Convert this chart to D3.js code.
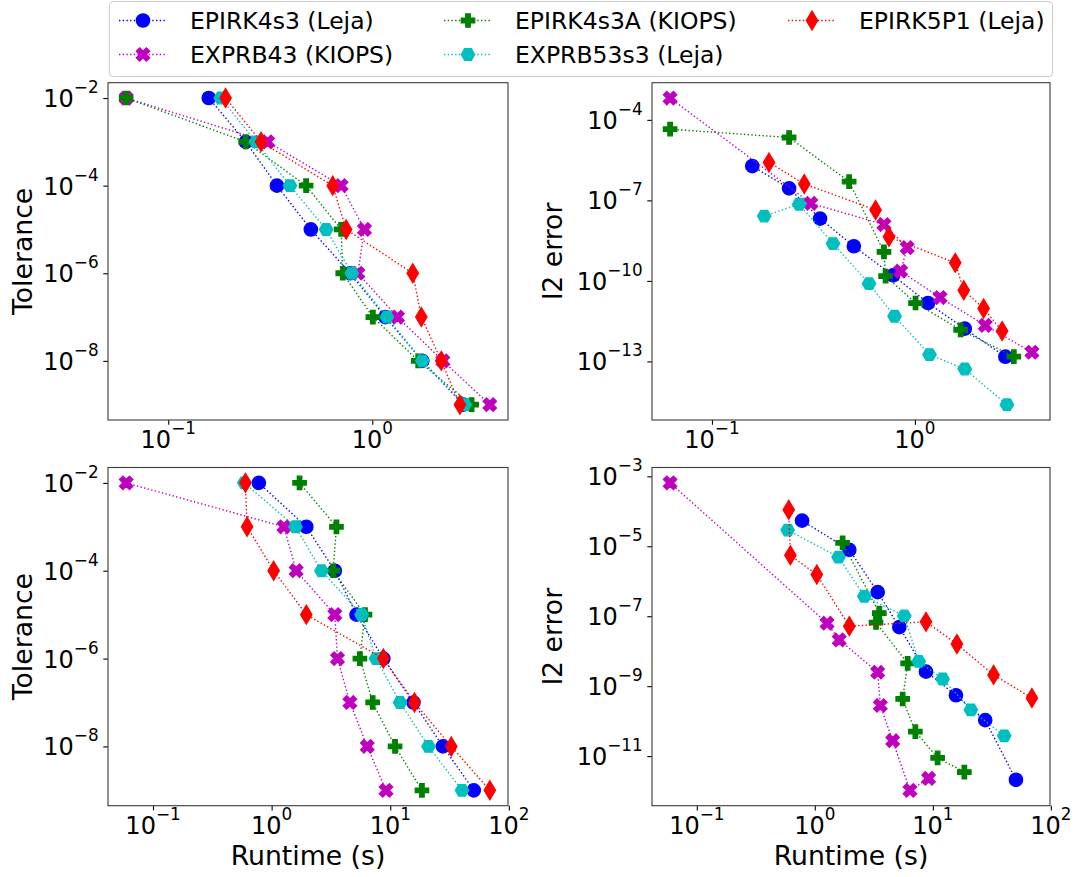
<!DOCTYPE html>
<html><head><meta charset="utf-8">
<script src="https://cdn.jsdelivr.net/npm/d3@7"></script>
<style>body{margin:0;background:#fff;} svg{display:block;}</style>
</head><body>
<svg id="chart" width="1075" height="877"></svg>
<script>
// ---------------- DATA ----------------
const tolerances = [1e-2, 1e-3, 1e-4, 1e-5, 1e-6, 1e-7, 1e-8, 1e-9];
const seriesNames = ["EPIRK4s3 (Leja)", "EXPRB43 (KIOPS)", "EPIRK4s3A (KIOPS)", "EXPRB53s3 (Leja)", "EPIRK5P1 (Leja)"];
const seriesColors = ["#0000ff", "#bf00bf", "#008000", "#00bfbf", "#ff0000"];
const seriesMarkers = ["o", "X", "P", "h", "d"];

// Top row (runtime in s), order of seriesNames
const runtimeTop_EPIRK4s3  = [0.158, 0.24, 0.341, 0.50, 0.78, 1.16, 1.76, 2.79];
const runtimeTop_EXPRB43   = [0.0622, 0.307, 0.704, 0.916, 0.85, 1.33, 2.22, 3.77];
const runtimeTop_EPIRK4s3A = [0.0622, 0.24, 0.474, 0.704, 0.717, 1.007, 1.68, 3.07];
const runtimeTop_EXPRB53s3 = [0.181, 0.269, 0.395, 0.594, 0.794, 1.18, 1.76, 2.84];
const runtimeTop_EPIRK5P1  = [0.191, 0.285, 0.640, 0.745, 1.58, 1.74, 2.18, 2.69];

const errorTop_EPIRK4s3  = [1.9e-6, 2.8e-7, 2.1e-8, 1.95e-9, 1.6e-10, 1.5e-11, 1.66e-12, 1.5e-13];
const errorTop_EXPRB43   = [6.5e-4, 7.8e-8, 1.26e-8, 1.74e-9, 2.3e-10, 2.4e-11, 2.2e-12, 2.2e-13];
const errorTop_EPIRK4s3A = [4.5e-5, 2.2e-5, 5.0e-7, 1.2e-9, 1.5e-10, 1.5e-11, 1.5e-12, 1.5e-13];
const errorTop_EXPRB53s3 = [2.6e-8, 7.2e-8, 2.45e-9, 7.9e-11, 4.8e-12, 1.8e-13, 5.2e-14, 2.45e-15];
const errorTop_EPIRK5P1  = [2.6e-6, 4.1e-7, 4.4e-8, 4.4e-9, 4.7e-10, 4.5e-11, 9.3e-12, 1.35e-12];

// Bottom row
const runtimeBot_EPIRK4s3  = [0.780, 1.96, 3.41, 5.20, 8.75, 15.7, 27.8, 50.6];
const runtimeBot_EXPRB43   = [0.0594, 1.27, 1.61, 3.41, 3.59, 4.57, 6.40, 9.21];
const runtimeBot_EPIRK4s3A = [1.72, 3.52, 3.30, 6.12, 5.55, 7.11, 10.98, 18.5];
const runtimeBot_EXPRB53s3 = [0.589, 1.59, 2.63, 5.73, 7.59, 12.1, 21.0, 40.3];
const runtimeBot_EPIRK5P1  = [0.601, 0.621, 1.04, 1.96, 8.75, 16.0, 32.7, 69.1];

const errorBot_EPIRK4s3  = [5.4e-5, 7.9e-6, 4.9e-7, 4.9e-8, 2.6e-9, 5.5e-10, 1.07e-10, 2.1e-12];
const errorBot_EXPRB43   = [6.5e-4, 6.3e-8, 2.1e-8, 2.5e-9, 2.8e-10, 2.75e-11, 1.05e-12, 2.3e-12];
const errorBot_EPIRK4s3A = [1.26e-5, 1.23e-7, 6.6e-8, 4.5e-9, 4.3e-10, 5.0e-11, 8.9e-12, 3.5e-12];
const errorBot_EXPRB53s3 = [2.9e-5, 4.9e-6, 3.7e-7, 1.02e-7, 5.1e-9, 1.6e-9, 2.1e-10, 3.8e-11];
const errorBot_EPIRK5P1  = [1.1e-4, 5.5e-6, 1.55e-6, 5.2e-8, 6.9e-8, 1.6e-8, 2.1e-9, 4.6e-10];

const xTicksTop = [1e-1, 1e0];
const xTicksBot = [1e-1, 1e0, 1e1, 1e2];
const yTicksTol = [1e-2, 1e-4, 1e-6, 1e-8];
const yTicksErrTop = [1e-4, 1e-7, 1e-10, 1e-13];
const yTicksErrBot = [1e-3, 1e-5, 1e-7, 1e-9, 1e-11];

// ---------------- BUILD ----------------
const runtimeTop = [runtimeTop_EPIRK4s3, runtimeTop_EXPRB43, runtimeTop_EPIRK4s3A, runtimeTop_EXPRB53s3, runtimeTop_EPIRK5P1];
const runtimeBot = [runtimeBot_EPIRK4s3, runtimeBot_EXPRB43, runtimeBot_EPIRK4s3A, runtimeBot_EXPRB53s3, runtimeBot_EPIRK5P1];
const errorTop = [errorTop_EPIRK4s3, errorTop_EXPRB43, errorTop_EPIRK4s3A, errorTop_EXPRB53s3, errorTop_EPIRK5P1];
const errorBot = [errorBot_EPIRK4s3, errorBot_EXPRB43, errorBot_EPIRK4s3A, errorBot_EXPRB53s3, errorBot_EPIRK5P1];
const tolAll = seriesNames.map(() => tolerances);

const FONT = "DejaVu Sans, Verdana, sans-serif";
const TICKFS = 24, LABELFS = 26.7, LEGFS = 23.5;
const MS = 13.33, MEW = 1.33, LW = 1.4;

const svg = d3.select("#chart");
svg.append("rect").attr("width", 1075).attr("height", 877).attr("fill", "#fff");

function logDomain(arrs) {
  const all = arrs.flat();
  const lo = Math.log10(d3.min(all)), hi = Math.log10(d3.max(all));
  const m = 0.05 * (hi - lo);
  return [Math.pow(10, lo - m), Math.pow(10, hi + m)];
}

function markerPath(type, s) {
  let pts;
  if (type === "X") {
    pts = [[-1,-2],[0,-1],[1,-2],[2,-1],[1,0],[2,1],[1,2],[0,1],[-1,2],[-2,1],[-1,0],[-2,-1]].map(p => [p[0]/4*s, p[1]/4*s]);
  } else if (type === "P") {
    pts = [[-1,-3],[1,-3],[1,-1],[3,-1],[3,1],[1,1],[1,3],[-1,3],[-1,1],[-3,1],[-3,-1],[-1,-1]].map(p => [p[0]/6*s, p[1]/6*s]);
  } else if (type === "h") {
    pts = d3.range(6).map(k => { const a = k*Math.PI/3; return [0.5*s*Math.cos(a), -0.5*s*Math.sin(a)]; });
  } else if (type === "d") {
    const r = Math.SQRT1_2 * s;
    pts = [[0,-r],[0.6*r,0],[0,r],[-0.6*r,0]];
  } else {
    const r = s/2;
    return `M${r},0A${r},${r} 0 1,1 ${-r},0A${r},${r} 0 1,1 ${r},0Z`;
  }
  return "M" + pts.map(p => p[0].toFixed(2) + "," + p[1].toFixed(2)).join("L") + "Z";
}

function powLabel(sel, v, anchor) {
  const e = Math.round(Math.log10(v));
  sel.attr("font-family", FONT).attr("font-size", TICKFS).attr("fill", "#000").attr("text-anchor", anchor);
  sel.append("tspan").text("10");
  sel.append("tspan").attr("font-size", TICKFS * 0.7).attr("dy", -14).text(e < 0 ? "\u2212" + (-e) : String(e));
}

const cols = [{x0: 108, x1: 508}, {x0: 652, x1: 1050}];
const rows = [{y0: 82.7, y1: 420}, {y0: 467.5, y1: 805.7}];

const panels = [
  {c: 0, r: 0, xs: runtimeTop, ys: tolAll, xt: xTicksTop, yt: yTicksTol, ylabel: "Tolerance", ylx: 31.5},
  {c: 1, r: 0, xs: runtimeTop, ys: errorTop, xt: xTicksTop, yt: yTicksErrTop, ylabel: "l2 error", ylx: 562},
  {c: 0, r: 1, xs: runtimeBot, ys: tolAll, xt: xTicksBot, yt: yTicksTol, ylabel: "Tolerance", ylx: 31.5, xlabel: "Runtime (s)"},
  {c: 1, r: 1, xs: runtimeBot, ys: errorBot, xt: xTicksBot, yt: yTicksErrBot, ylabel: "l2 error", ylx: 562, xlabel: "Runtime (s)"}
];

panels.forEach(p => {
  const {x0, x1} = cols[p.c], {y0, y1} = rows[p.r];
  const x = d3.scaleLog().domain(logDomain(p.xs)).range([x0, x1]);
  const y = d3.scaleLog().domain(logDomain(p.ys)).range([y1, y0]);
  const g = svg.append("g");

  const xa = g.append("g").attr("transform", `translate(0,${y1})`)
    .call(d3.axisBottom(x).tickValues(p.xt).tickFormat("").tickSize(4.7).tickSizeOuter(0));
  const ya = g.append("g").attr("transform", `translate(${x0},0)`)
    .call(d3.axisLeft(y).tickValues(p.yt).tickFormat("").tickSize(4.7).tickSizeOuter(0));
  [xa, ya].forEach(a => { a.select(".domain").remove(); a.selectAll("line").attr("stroke", "#000").attr("stroke-width", 1.1); });

  p.xt.forEach(v => {
    g.append("text").attr("x", x(v)).attr("y", y1 + 27.8).call(s => powLabel(s, v, "middle"));
  });
  p.yt.forEach(v => {
    g.append("text").attr("x", x0 - 9.4).attr("y", y(v) + 9).call(s => powLabel(s, v, "end"));
  });

  const line = d3.line().x(d => x(d[0])).y(d => y(d[1]));
  seriesNames.forEach((name, i) => {
    const pts = p.xs[i].map((t, k) => [t, p.ys[i][k]]);
    const sg = g.append("g");
    sg.append("path").attr("d", line(pts)).attr("fill", "none")
      .attr("stroke", seriesColors[i]).attr("stroke-width", LW).attr("stroke-dasharray", "1.4,2.3");
    sg.selectAll("path.m").data(pts).join("path").attr("class", "m")
      .attr("transform", d => `translate(${x(d[0])},${y(d[1])})`)
      .attr("d", markerPath(seriesMarkers[i], MS))
      .attr("fill", seriesColors[i]).attr("stroke", seriesColors[i]).attr("stroke-width", MEW);
  });

  g.append("rect").attr("x", x0).attr("y", y0).attr("width", x1 - x0).attr("height", y1 - y0)
    .attr("fill", "none").attr("stroke", "#3a3a3a").attr("stroke-width", 1.1);

  g.append("text").attr("transform", `translate(${p.ylx},${(y0 + y1) / 2}) rotate(-90)`)
    .attr("text-anchor", "middle").attr("font-family", FONT).attr("font-size", LABELFS).text(p.ylabel);
  if (p.xlabel) {
    g.append("text").attr("x", (x0 + x1) / 2).attr("y", 865).attr("text-anchor", "middle")
      .attr("font-family", FONT).attr("font-size", LABELFS).text(p.xlabel);
  }
});

// ---------------- LEGEND ----------------
const leg = svg.append("g");
leg.append("rect").attr("x", 109.5).attr("y", 1.5).attr("width", 943).attr("height", 75).attr("rx", 4)
  .attr("fill", "#fff").attr("fill-opacity", 0.8).attr("stroke", "#cccccc").attr("stroke-width", 1.1);
const legCols = [143, 468, 812];
const legRows = [20.5, 54.5];
seriesNames.forEach((name, i) => {
  const cx = legCols[Math.floor(i / 2)], cy = legRows[i % 2];
  leg.append("line").attr("x1", cx - 24).attr("x2", cx + 24).attr("y1", cy).attr("y2", cy)
    .attr("stroke", seriesColors[i]).attr("stroke-width", LW).attr("stroke-dasharray", "1.4,2.3");
  leg.append("path").attr("transform", `translate(${cx},${cy})`).attr("d", markerPath(seriesMarkers[i], MS))
    .attr("fill", seriesColors[i]).attr("stroke", seriesColors[i]).attr("stroke-width", MEW);
  leg.append("text").attr("x", cx + 47).attr("y", cy + 8.5).attr("font-family", FONT)
    .attr("font-size", LEGFS).text(name);
});
</script>
</body></html>
